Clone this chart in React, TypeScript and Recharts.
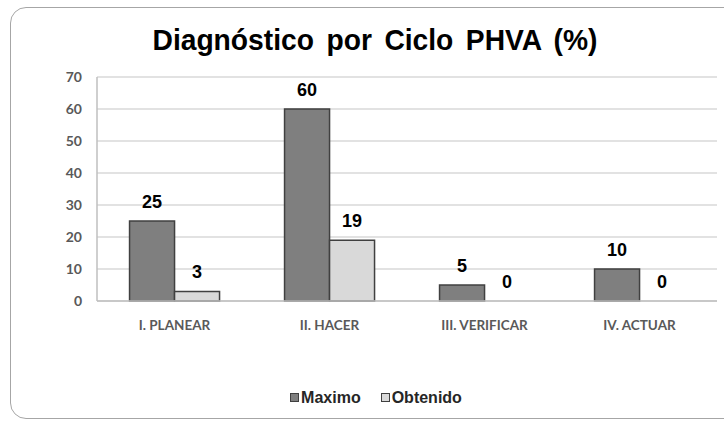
import React from 'react';
import { BarChart, Bar, XAxis, YAxis, CartesianGrid, LabelList, Rectangle } from 'recharts';

const categories = ['I. PLANEAR', 'II. HACER', 'III. VERIFICAR', 'IV. ACTUAR'];
const maximo = [25, 60, 5, 10];
const obtenido = [3, 19, 0, 0];
const yTicks = [0, 10, 20, 30, 40, 50, 60, 70];

const data = categories.map((c, i) => ({ name: c, Maximo: maximo[i], Obtenido: obtenido[i] }));

const labelStyle = { fontFamily: 'Liberation Sans, Arial, sans-serif', fontWeight: 700, fontSize: 18, fill: '#000' };
const LABEL_GAP = 13;

const LegendBox = ({ color }: { color: string }) => (
  <span style={{ display: 'inline-block', width: 7, height: 7, background: color, border: '1.5px solid #404040', marginRight: 2, verticalAlign: 1 }} />
);

const valueLabel = (props: any) => {
  const { x, y, width, value } = props;
  if (!value) return null;
  return (
    <text x={Number(x) + Number(width) / 2} y={Number(y) - LABEL_GAP} textAnchor="middle" style={labelStyle}>
      {value}
    </text>
  );
};

// Maximo bar shape: also writes the "0" label of Obtenido when that bar has zero height
const MaximoShape = (props: any) => {
  const { x, y, width, height, payload } = props;
  return (
    <g>
      <Rectangle {...props} />
      {payload && payload.Obtenido === 0 ? (
        <text x={x + width * 1.5} y={y + height - LABEL_GAP} textAnchor="middle" style={labelStyle}>0</text>
      ) : null}
    </g>
  );
};

export default function App() {
  return (
    <div style={{ position: 'absolute', left: 0, top: 0, width: 724, height: 424, background: '#fff', overflow: 'hidden' }}>
      <div style={{ position: 'absolute', left: 10, top: 7, width: 730, height: 412, border: '1.5px solid #a6a6a6', borderRadius: 16, boxSizing: 'border-box' }} />
      <div style={{ position: 'absolute', left: 0, top: 23, width: 750, textAlign: 'center', fontFamily: 'Liberation Sans, Arial, sans-serif', fontWeight: 700, fontSize: 30, wordSpacing: 5, color: '#000', transform: 'scaleX(0.94)', transformOrigin: '375px 0' }}>
        Diagnóstico por Ciclo PHVA (%)
      </div>
      <div style={{ position: 'absolute', left: 0, top: 0 }}>
        <BarChart width={724} height={424} data={data} margin={{ top: 77, right: 7, bottom: 93, left: 0 }} barCategoryGap="21%" barGap={0}>
          <CartesianGrid vertical={false} stroke="#d9d9d9" strokeWidth={1.5} />
          <XAxis dataKey="name" tickLine={false} axisLine={{ stroke: '#bfbfbf', strokeWidth: 1.5 }} tickMargin={13}
            tick={{ fontFamily: 'Lato, sans-serif', fontSize: 13.5, fontWeight: 700, fill: '#595959' }} />
          <YAxis width={97} domain={[0, 70]} ticks={yTicks} tickLine={false} axisLine={{ stroke: '#bfbfbf', strokeWidth: 1.5 }} tickMargin={9}
            tick={{ fontFamily: 'Lato, sans-serif', fontSize: 14, fontWeight: 700, fill: '#595959' }} />
          <Bar dataKey="Maximo" fill="#7f7f7f" stroke="#404040" strokeWidth={1.5} isAnimationActive={false} shape={MaximoShape}>
            <LabelList dataKey="Maximo" content={valueLabel} />
          </Bar>
          <Bar dataKey="Obtenido" fill="#d9d9d9" stroke="#404040" strokeWidth={1.5} isAnimationActive={false}>
            <LabelList dataKey="Obtenido" content={valueLabel} />
          </Bar>
        </BarChart>
      </div>
      <div style={{ position: 'absolute', left: 0, top: 389, width: 752, textAlign: 'center', fontFamily: 'Liberation Sans, Arial, sans-serif', fontWeight: 700, fontSize: 16, color: '#262626' }}>
        <span style={{ marginRight: 20 }}><LegendBox color="#7f7f7f" />Maximo</span>
        <span><LegendBox color="#d9d9d9" />Obtenido</span>
      </div>
    </div>
  );
}
